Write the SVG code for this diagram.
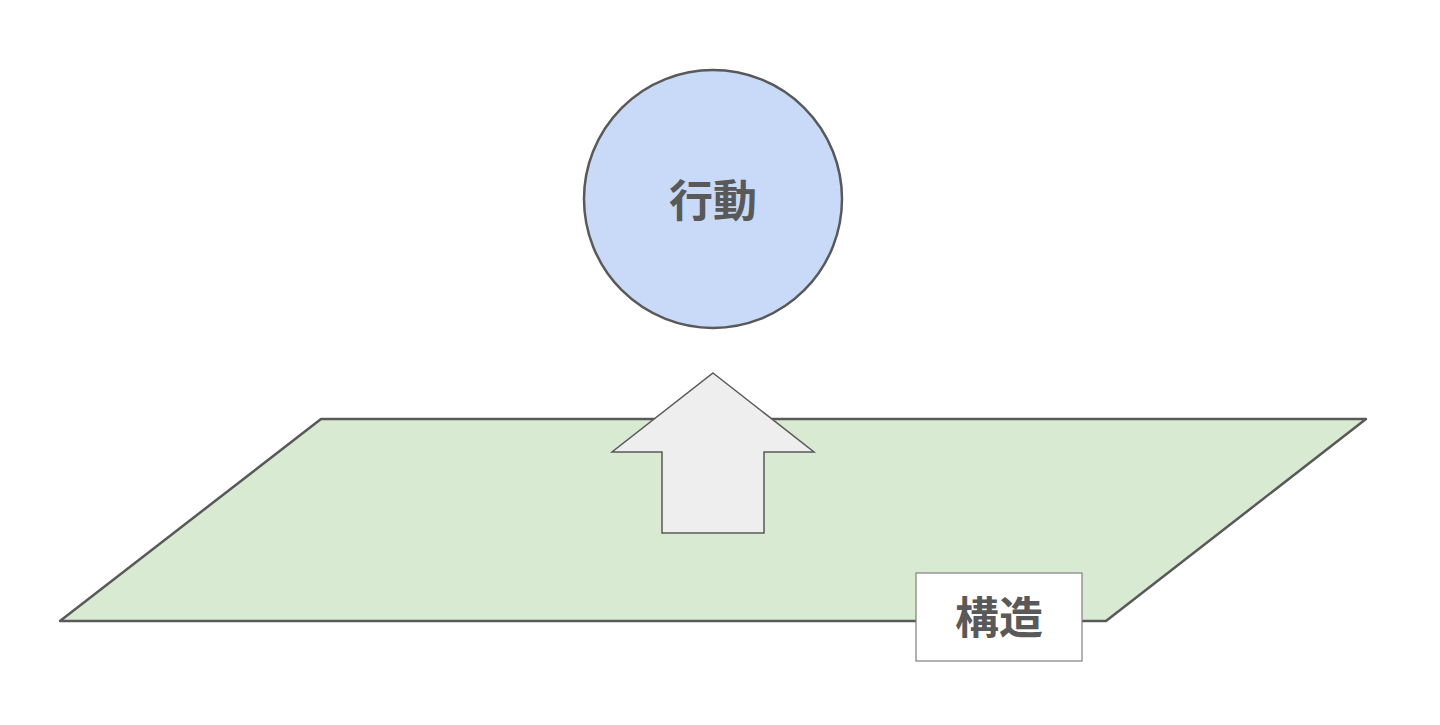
<svg xmlns="http://www.w3.org/2000/svg" width="1440" height="725" viewBox="0 0 1440 725">
<style>
.lbl{font-family:"Noto Sans CJK JP","Noto Sans",sans-serif;font-weight:700;font-size:44px;fill:#595959;text-anchor:middle;dominant-baseline:central}
</style>
<rect width="1440" height="725" fill="#ffffff"/>
<g id="structure-plane">
<polygon points="321,419 1366,419 1106,621 60,621" fill="#d9ead3" stroke="#595959" stroke-width="2.5" stroke-linejoin="round"/>
</g>
<g id="action">
<circle cx="713" cy="199" r="129" fill="#c9daf8" stroke="#595959" stroke-width="2.5"/>
<text class="lbl" x="713" y="198">行動</text>
</g>
<g id="connectors">
<polygon points="713,373 814,452 764,452 764,533 662,533 662,452 612,452" fill="#eeeeee" stroke="#595959" stroke-width="1.5" stroke-linejoin="miter"/>
</g>
<g id="structure-label">
<rect x="916" y="573" width="166" height="88" fill="#ffffff" stroke="#7f7f7f" stroke-width="1.2"/>
<text class="lbl" x="999" y="615">構造</text>
</g>
</svg>
